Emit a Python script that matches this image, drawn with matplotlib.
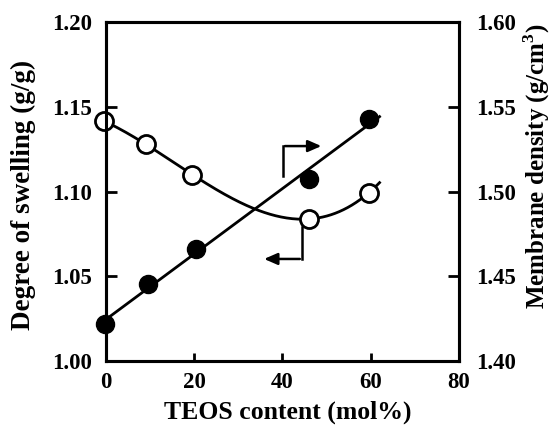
import numpy as np
import matplotlib.pyplot as plt
from matplotlib.ticker import FormatStrFormatter

# data
teos_swelling = [-0.5, 9.0, 19.5, 46.0, 59.5]
swelling = [1.1416, 1.128, 1.110, 1.0838, 1.0991]
teos_density = [-0.3, 9.5, 20.3, 46.0, 59.5]
density = [1.4218, 1.4454, 1.4658, 1.5074, 1.5428]

x_ticks = [0, 20, 40, 60, 80]
left_ticks = [1.00, 1.05, 1.10, 1.15, 1.20]
right_ticks = [1.40, 1.45, 1.50, 1.55, 1.60]

plt.rcParams["font.family"] = ["Liberation Serif", "DejaVu Serif"]
plt.rcParams["font.weight"] = "bold"
plt.rcParams["mathtext.fontset"] = "custom"
plt.rcParams["mathtext.rm"] = "Liberation Serif:bold"

fig = plt.figure(figsize=(5.56, 4.30), dpi=100)
ax = fig.add_axes([0.1906, 0.1605, 0.6349, 0.7883])
ax2 = ax.twinx()

# fitted curves
xs = np.linspace(-0.5, 62, 200)
c_sw = np.polyfit(teos_swelling, swelling, 3)
ax.plot(xs, np.polyval(c_sw, xs), color="black", lw=2, clip_on=False)
c_de = np.polyfit(teos_density, density, 1)
ax2.plot(xs, np.polyval(c_de, xs), color="black", lw=2, clip_on=False)

ax.plot(teos_swelling, swelling, "o", ms=13, mfc="white", mec="black",
        mew=2, clip_on=False, zorder=5)
ax2.plot(teos_density, density, "o", ms=13, mfc="black", mec="black",
         clip_on=False, zorder=5)

ax.set_xlim(0, 80)
ax.set_ylim(1.00, 1.20)
ax2.set_ylim(1.40, 1.60)
ax.set_xticks(x_ticks)
ax.set_yticks(left_ticks)
ax2.set_yticks(right_ticks)
ax.yaxis.set_major_formatter(FormatStrFormatter("%.2f"))
ax2.yaxis.set_major_formatter(FormatStrFormatter("%.2f"))

for a in (ax, ax2):
    for s in a.spines.values():
        s.set_linewidth(2.2)
ax.tick_params(axis="x", direction="in", length=6, width=2, pad=8, labelsize=16.5)
ax.tick_params(axis="y", direction="in", length=8, width=2, pad=10, labelsize=16.5)
ax2.tick_params(axis="y", direction="in", length=8, width=2, pad=12, labelsize=16.5)

ax.set_xlabel("TEOS content (mol%)", fontsize=18.5, fontweight="bold")
ax.set_ylabel("Degree of swelling (g/g)", fontsize=19.5, fontweight="bold")
ax2.set_ylabel(r"Membrane density (g/cm$^3$)", fontsize=18, fontweight="bold")
ax.xaxis.set_label_coords(0.514, -0.118)
ax.yaxis.set_label_coords(-0.198, 0.491)
ax2.yaxis.set_label_coords(1.178, 0.575)

# axis pointer arrows
arrow = dict(arrowstyle="-|>,head_length=0.8,head_width=0.35", color="black", lw=1.8)
ax.plot([0.501, 0.501], [0.546, 0.634], color="black", lw=1.8, transform=ax.transAxes)
ax.annotate("", xy=(0.618, 0.634), xytext=(0.499, 0.634), xycoords="axes fraction",
            arrowprops=arrow)
ax.plot([0.555, 0.555], [0.395, 0.301], color="black", lw=1.8, transform=ax.transAxes)
ax.annotate("", xy=(0.440, 0.301), xytext=(0.557, 0.301), xycoords="axes fraction",
            arrowprops=arrow)

fig.savefig("out.png", dpi=100)
